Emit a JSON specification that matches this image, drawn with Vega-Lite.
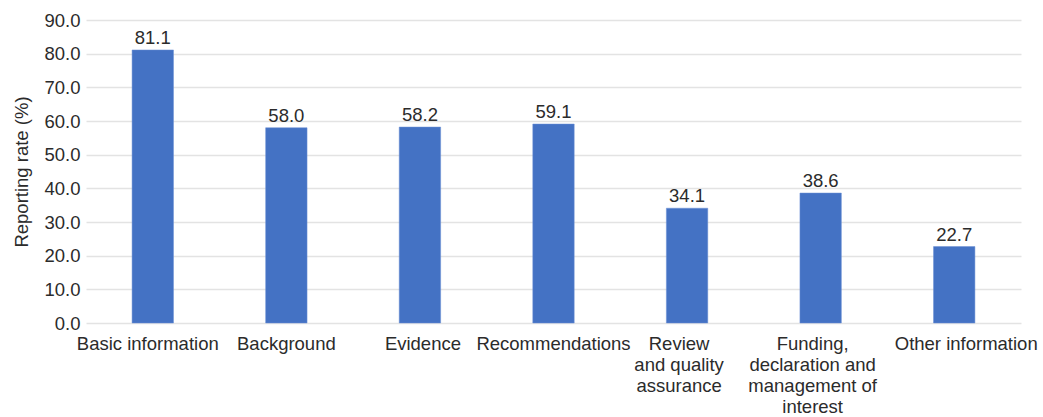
{
  "$schema": "https://vega.github.io/schema/vega-lite/v6.json",
  "width": 935,
  "height": 303,
  "autosize": {"type": "none"},
  "padding": {"left": 86, "top": 20, "right": 22, "bottom": 94},
  "background": "white",
  "config": {
    "view": {"stroke": null},
    "font": "Liberation Sans",
    "axis": {"labelFont": "Liberation Sans", "titleFont": "Liberation Sans"}
  },
  "data": {
    "values": [
      {"category": "Basic information", "rate": 81.1},
      {"category": "Background", "rate": 58.0},
      {"category": "Evidence", "rate": 58.2},
      {"category": "Recommendations", "rate": 59.1},
      {"category": "Review and quality assurance", "rate": 34.1},
      {"category": "Funding, declaration and management of interest", "rate": 38.6},
      {"category": "Other information", "rate": 22.7}
    ]
  },
  "encoding": {
    "x": {
      "field": "category",
      "type": "nominal",
      "sort": null,
      "scale": {"paddingInner": 0.69, "paddingOuter": 0.345},
      "axis": {
        "title": null,
        "labelAngle": 0,
        "labelFontSize": 18.5,
        "labelColor": "#2b2b2b",
        "labelLineHeight": 21,
        "labelPadding": 11,
        "labelLimit": 0,
        "labelOverlap": false,
        "ticks": false,
        "domain": false,
        "labelOffset": {
          "condition": [
            {"test": "datum.value == 'Basic information'", "value": -5},
            {"test": "datum.value == 'Evidence'", "value": 3},
            {"test": "datum.value == 'Review and quality assurance'", "value": -8},
            {"test": "datum.value == 'Funding, declaration and management of interest'", "value": -8},
            {"test": "datum.value == 'Other information'", "value": 12}
          ],
          "value": 0
        },
        "labelExpr": "datum.value == 'Review and quality assurance' ? ['Review', 'and quality', 'assurance'] : datum.value == 'Funding, declaration and management of interest' ? ['Funding,', 'declaration and', 'management of', 'interest'] : datum.value"
      }
    },
    "y": {
      "field": "rate",
      "type": "quantitative",
      "scale": {"domain": [0, 90]},
      "axis": {
        "title": "Reporting rate (%)",
        "titleFontSize": 18.5,
        "titleFontWeight": "normal",
        "titleColor": "#2b2b2b",
        "titlePadding": 12,
        "values": [0, 10, 20, 30, 40, 50, 60, 70, 80, 90],
        "format": ".1f",
        "labelFontSize": 18.5,
        "labelColor": "#2b2b2b",
        "labelPadding": 6,
        "ticks": false,
        "domain": false,
        "grid": true,
        "gridColor": "#e3e3e3",
        "gridWidth": 1.5
      }
    }
  },
  "layer": [
    {"mark": {"type": "bar", "color": "#4472C4", "stroke": "#6a8fd4", "strokeWidth": 0.5}},
    {
      "mark": {"type": "text", "baseline": "bottom", "dy": -2, "fontSize": 18.5, "color": "#2b2b2b"},
      "encoding": {"text": {"field": "rate", "type": "quantitative", "format": ".1f"}}
    }
  ]
}
